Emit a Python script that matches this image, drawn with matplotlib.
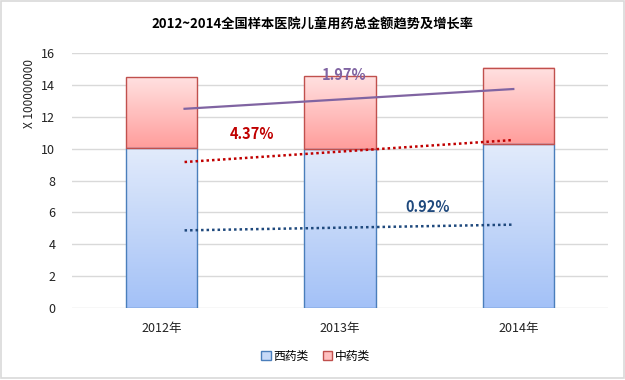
import numpy as np
import matplotlib.pyplot as plt
from matplotlib.colors import LinearSegmentedColormap
from matplotlib.patches import Rectangle

plt.rcParams['font.family'] = ['Noto Sans CJK SC', 'DejaVu Sans']

years = ['2012年', '2013年', '2014年']
western = [10.05, 9.98, 10.27]      # 西药类, x 100000000
chinese = [4.44, 4.57, 4.77]        # 中药类

# trend lines (start / end values)
trend_x = [0.13, 1.97]
trend_total = [12.5, 13.74]
trend_chinese = [9.16, 10.54]
trend_western = [4.87, 5.23]
rate_labels = ['1.97%', '4.37%', '0.92%']

fig = plt.figure(figsize=(6.25, 3.8), dpi=100)
ax = fig.add_axes([0.1152, 0.1895, 0.8576, 0.671])

blue_cmap = LinearSegmentedColormap.from_list('b', ['#A3C1F7', '#E2EBFB'])
red_cmap = LinearSegmentedColormap.from_list('r', ['#FF9D9B', '#FFE1E1'])
grad = np.linspace(0, 1, 256).reshape(-1, 1)

width = 0.4
x = np.arange(len(years))
for i in x:
    x0 = i - width / 2
    w = western[i]
    c = chinese[i]
    ax.imshow(grad, cmap=blue_cmap, origin='lower', aspect='auto',
              extent=[x0, x0 + width, 0, w], zorder=2)
    ax.add_patch(Rectangle((x0, 0), width, w, fill=False, edgecolor='#4A7EBB', lw=1, zorder=3))
    ax.imshow(grad, cmap=red_cmap, origin='lower', aspect='auto',
              extent=[x0, x0 + width, w, w + c], zorder=2)
    ax.add_patch(Rectangle((x0, w), width, c, fill=False, edgecolor='#C0504D', lw=1, zorder=3))

ax.plot(trend_x, trend_total, color='#8064A2', lw=1.6, zorder=4)
ax.plot(trend_x, trend_chinese, color='#C00000', lw=1.8, ls=(0, (1, 1.2)), zorder=4)
ax.plot(trend_x, trend_western, color='#1F497D', lw=1.8, ls=(0, (1, 1.2)), zorder=4)

ax.text(1.02, 14.65, rate_labels[0], color='#8064A2', fontsize=10.5, fontweight='bold', ha='center', va='center', zorder=5)
ax.text(0.51, 10.9, rate_labels[1], color='#C00000', fontsize=10.5, fontweight='bold', ha='center', va='center', zorder=5)
ax.text(1.49, 6.35, rate_labels[2], color='#1F497D', fontsize=10.5, fontweight='bold', ha='center', va='center', zorder=5)

ax.set_xlim(-0.5, 2.5)
ax.set_ylim(0, 16)
ax.set_yticks(range(0, 17, 2))
ax.set_xticks(x)
ax.set_xticklabels(years)
ax.tick_params(axis='both', length=0, labelsize=9, colors='#222222')
ax.tick_params(axis='y', pad=12)
ax.tick_params(axis='x', pad=10)
ax.grid(axis='y', color='#D9D9D9', lw=1, zorder=0)
ax.set_axisbelow(True)
for s in ax.spines.values():
    s.set_visible(False)

ax.set_ylabel('X 100000000', fontsize=8.5, color='#222222')
ax.yaxis.set_label_coords(-0.068, 0.84)

fig.text(0.5, 0.935, '2012~2014全国样本医院儿童用药总金额趋势及增长率',
         ha='center', va='center', fontsize=9.5, fontweight='bold')

# legend
handles = [Rectangle((0, 0), 1, 1, facecolor='#C6D9F8', edgecolor='#4A7EBB'),
           Rectangle((0, 0), 1, 1, facecolor='#FFC0C0', edgecolor='#C0504D')]
fig.legend(handles, ['西药类', '中药类'], loc='center', bbox_to_anchor=(0.505, 0.062),
           ncol=2, frameon=False, fontsize=8.5, handlelength=0.8, handleheight=0.8,
           handletextpad=0.2, columnspacing=1.2)

fig.patches.append(Rectangle((0.002, 0.005), 0.996, 0.993, transform=fig.transFigure,
                             fill=False, edgecolor='#D9D9D9', lw=1.2))

fig.savefig('out.png', dpi=100)
